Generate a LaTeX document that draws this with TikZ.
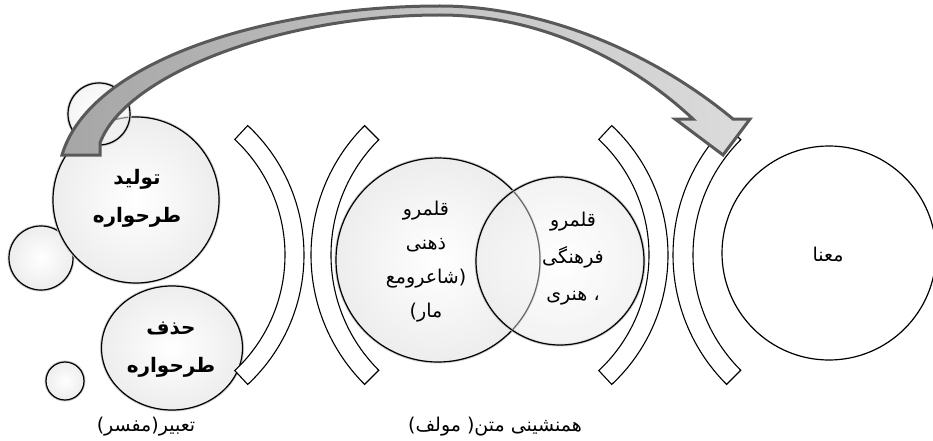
\documentclass[tikz,border=0pt]{standalone}
\usepackage{fontspec}
\newfontfamily\arabicfont[Script=Arabic]{DejaVu Sans}
\newfontfamily\parenfont{DejaVu Sans}
\usetikzlibrary{shapes.geometric,calc}
\definecolor{arrowline}{HTML}{595959}
\definecolor{arrowdark}{HTML}{A6A6A6}
\definecolor{arrowlight}{HTML}{DCDCDC}
\definecolor{bubedge}{HTML}{EDEDED}
\newcommand{\pl}[1]{\hbox{\parenfont #1}}
\begin{document}
\begin{tikzpicture}[x=1pt,y=-1pt,
  bubfill/.style={draw=black, line width=1.2pt, inner sep=0pt,
    inner color=white, outer color=bubedge, preaction={draw=gray!40, line width=3pt}},
  bub/.style={bubfill, circle},
  plainbub/.style={circle, draw=black, line width=1.2pt, fill=white, inner sep=0pt},
  band/.style={draw=black, line width=1.1pt, fill=white, line join=miter},
  arrowshape/.style={draw=arrowline, line width=3pt, left color=arrowdark,
    right color=arrowlight, line join=miter},
  lbl/.style={font=\arabicfont\fontsize{19}{35}\selectfont, align=center, inner sep=0pt},
  lblb/.style={font=\arabicfont\bfseries\fontsize{20}{38}\selectfont, align=center, inner sep=0pt}]
\useasboundingbox (0,0) rectangle (933,441);

% bubbles on the left
\node[bub, minimum size=64pt] (smallleft) at (41,258) {};
\node[bub, minimum size=166pt] (tolid) at (136,200) {};
\node[bub, minimum size=62pt, fill opacity=0.55] (smalltop) at (99,114) {};
\node[bubfill, ellipse, minimum width=141pt, minimum height=124pt] (hazf) at (172,348) {};
\node[bub, minimum size=38pt] (tiny) at (65,381) {};

% overlapping domains
\node[bub, minimum size=204pt] (A) at (438,260) {};
\node[bub, minimum size=168pt, fill opacity=0.7] (B) at (560,261) {};
\begin{scope}
  \clip (B.center) circle[radius=84];
  \draw[black!60, line width=1pt] (A.center) circle[radius=102];
\end{scope}

% meaning
\node[plainbub, minimum size=214pt] (mana) at (829,253) {};

% brackets
\coordinate (c1) at (127,255);
\coordinate (c2) at (494,255);
\coordinate (c3) at (491,255);
\coordinate (c4) at (856,255);
\draw[band] ($(c1)+(-47:177)$) arc[start angle=-47, end angle=47, radius=177]
  -- ($(c1)+(47:158)$) arc[start angle=47, end angle=-47, radius=158] -- cycle;
\draw[band] ($(c2)+(135:183)$) arc[start angle=135, end angle=225, radius=183]
  -- ($(c2)+(225:163)$) arc[start angle=225, end angle=135, radius=163] -- cycle;
\draw[band] ($(c3)+(-47:177)$) arc[start angle=-47, end angle=47, radius=177]
  -- ($(c3)+(47:158)$) arc[start angle=47, end angle=-47, radius=158] -- cycle;
\draw[band] ($(c4)+(135:183)$) arc[start angle=135, end angle=225, radius=183]
  -- ($(c4)+(225:163)$) arc[start angle=225, end angle=135, radius=163] -- cycle;

% curved block arrow
\coordinate (tailL) at (62,155);
\coordinate (tailR) at (100,155);
\coordinate (headL) at (675,119);
\coordinate (headR) at (750,119);
\coordinate (tip) at (723,155);
\path[arrowshape] (tailL) .. controls (90,60) and (270,6) .. (440,6)
  .. controls (540,6) and (650,50) .. (733,119) -- (headR) -- (tip) -- (headL)
  -- (693,119) .. controls (630,60) and (540,15) .. (440,15)
  .. controls (280,15) and (125,75) .. (100,143) -- (tailR) -- cycle;

% texts
\node[lblb] (ttolid) at (137,198) {\hbox{تولید}\\\hbox{طرحواره}};
\node[lblb] (thazf) at (171,350) {\hbox{حذف}\\\hbox{طرحواره}};
\node[lbl, font=\arabicfont\fontsize{19}{34}\selectfont] (tA) at (426,262)
  {\hbox{قلمرو}\\\hbox{ذهنی}\\\hbox{شاعرومع}\pl{)}\\\pl{(}\hbox{مار}};
\node[lbl, font=\arabicfont\fontsize{19}{37}\selectfont] (tB) at (573,259)
  {\hbox{قلمرو}\\\hbox{فرهنگی}\\\hbox{هنری} \pl{،}};
\node[lbl] (tmana) at (828,255) {\hbox{معنا}};
\node[lbl] (l1) at (146,427) {\pl{(}\hbox{مفسر}\pl{)}\hbox{تعبیر}};
\node[lbl] (l2) at (495,427) {\pl{(}\hbox{مولف} \pl{)}\hbox{متن} \hbox{همنشینی}};
\end{tikzpicture}
\end{document}
